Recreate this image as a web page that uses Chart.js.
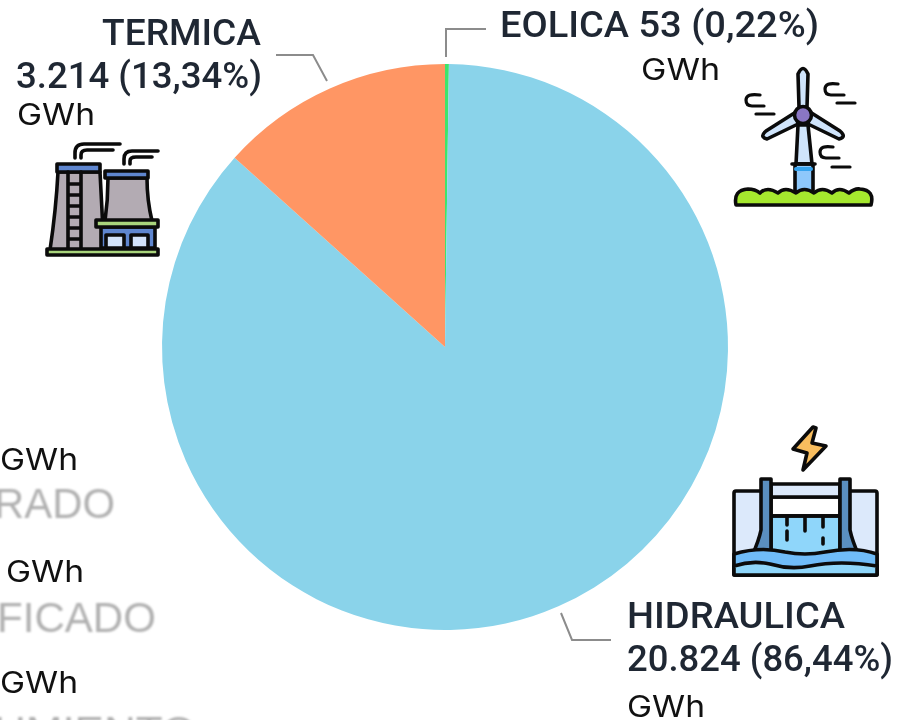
<!DOCTYPE html>
<html>
<head>
<meta charset="utf-8">
<script src="https://cdn.jsdelivr.net/npm/chart.js@4"></script>
<style>
html,body{margin:0;padding:0;background:#fff;overflow:hidden}
#wrap{position:relative;width:899px;height:720px}
canvas{position:absolute;left:0;top:0}
svg{position:absolute;left:0;top:0;pointer-events:none}
</style>
</head>
<body>
<div id="wrap">
<canvas id="c" width="899" height="720"></canvas>
<svg width="899" height="720" viewBox="0 0 899 720" fill="none" stroke="#0b0b0b" stroke-width="3.6" stroke-linecap="round" stroke-linejoin="round">
  <!-- thermal plant -->
  <g>
    <path d="M58 172 L100 172 L104 250 L50 250 Q56 210 58 172Z" fill="#b3abb3"/>
    <rect x="57" y="164" width="43" height="8" fill="#5f86cf"/>
    <path d="M68 172V248M81 172V248M68 184H81M68 195H81M68 206H81M68 217H81M68 228H81M68 239H81" />
    <path d="M108 178 L147 178 Q147 200 152 221 L105 221 Q108 200 108 178Z" fill="#b3abb3"/>
    <rect x="105" y="171" width="43" height="7" fill="#5f86cf"/>
    <rect x="101" y="227" width="54" height="21" fill="#5f86cf"/>
    <rect x="106" y="235" width="18" height="13" fill="#d3e3fa"/>
    <rect x="131" y="235" width="17" height="13" fill="#d3e3fa"/>
    <rect x="96" y="220" width="62" height="7" fill="#a9d47c"/>
    <rect x="47" y="249" width="111" height="6" fill="#a9d47c"/>
    <path d="M75 158V153Q75 144 84 144H120M81 158V155Q81 150 87 150H113"/>
    <path d="M124 164V159Q124 151 132 151H158M130 164V161Q130 157 136 157H152"/>
  </g>
  <!-- wind turbine -->
  <g>
    <path d="M798 125 L796 164 L812 164 L808 125Z" fill="#cfe4fb"/>
    <rect x="795" y="164" width="18" height="28" fill="#8ec8fb"/>
    <path d="M792 164H815"/>
    <path d="M796 169H811" stroke="#36a3ee" stroke-width="4"/>
    <path d="M736 205 Q733 190 748 189 Q755 189 760 193 Q767 186 778 193 Q785 186 796 193 Q804 186 814 193 Q822 186 832 193 Q839 186 849 193 Q855 188 860 189 Q875 190 871 205 H804 H736Z" fill="#a5e82e"/>
    <path d="M799 107 L798 74 Q803 63 808 74 L807 107Z" fill="#cfe4fb"/>
    <path d="M796 112 L766 131 Q759 137 767 139 L798 124Z" fill="#cfe4fb"/>
    <path d="M810 112 L840 131 Q847 137 839 139 L808 124Z" fill="#cfe4fb"/>
    <circle cx="803" cy="115" r="8.5" fill="#8a76c4"/>
    <path d="M760 95 Q746 93 746 100 Q746 106 752 106 H764M756 114H774" stroke-width="3.2"/>
    <path d="M838 84 Q825 82 825 89 Q825 95 831 95 H844M837 103H855" stroke-width="3.2"/>
    <path d="M833 147 Q820 145 820 152 Q820 158 826 158 H839M832 167H850" stroke-width="3.2"/>
  </g>
  <!-- hydro dam -->
  <g>
    <path d="M813 427 L793 449 L807 453 L803 470 L826 446 L812 443 L816 428Z" fill="#f8bd5e"/>
    <rect x="734" y="491" width="143" height="84" rx="2" fill="#dce9fb"/>
    <rect x="771" y="497" width="69" height="19" fill="#fff"/>
    <rect x="771" y="516" width="69" height="40" fill="#8fd6fa"/>
    <path d="M771 484H840V497H771Z" fill="#dce9fb"/>
    <path d="M771 516H840"/>
    <path d="M787 517V525M787 531V540M805 517V531M823 517V527M823 538V544"/>
    <path d="M761 479H771V556H752Q759 540 761 530Z" fill="#5a8fc0"/>
    <path d="M840 479H850V530Q852 540 859 556H840Z" fill="#5a8fc0"/>
    <path d="M734 554 Q760 546 785 552 Q805 556 825 552 Q855 546 877 554 V575 H734Z" fill="#70bcf8"/>
    <path d="M734 566 Q752 560 770 564 Q790 570 810 566 Q840 560 877 566 V575 H734Z" fill="#8fd6fa"/>
  </g>
</svg>
</div>
<script>
const categories = ['EOLICA', 'HIDRAULICA', 'TERMICA'];
const generation = [53, 20824, 3214];
const sliceColors = ['#3ee46c', '#8ad3ea', '#ff9664'];
const termicaLines = ['TERMICA', '3.214 (13,34%)'];
const eolicaLine = 'EOLICA 53 (0,22%)';
const hidraulicaLines = ['HIDRAULICA', '20.824 (86,44%)'];
const unitLabel = 'GWh';
const fadedLabels = ['RADO', 'FICADO', 'UMIENTO'];

const DARK = '500 37px Roboto', UNIT = '400 30px Inter', FADE = '400 42px "Liberation Sans"';
const annotations = [
  {t: termicaLines[0], x: 102, y: 45, w: 159, f: DARK, c: '#1f2733', b: 0.4},
  {t: termicaLines[1], x: 16, y: 88, w: 246, f: DARK, c: '#1f2733', b: 0.4},
  {t: unitLabel, x: 17, y: 125, w: 78, f: UNIT, c: '#111'},
  {t: eolicaLine, x: 500, y: 37, w: 319, f: DARK, c: '#1f2733', b: 0.4},
  {t: unitLabel, x: 641, y: 80, w: 79, f: UNIT, c: '#111'},
  {t: hidraulicaLines[0], x: 627, y: 628, w: 218, f: DARK, c: '#1f2733', b: 0.4},
  {t: hidraulicaLines[1], x: 627, y: 671, w: 266, f: DARK, c: '#1f2733', b: 0.4},
  {t: unitLabel, x: 627, y: 717, w: 78, f: UNIT, c: '#111'},
  {t: unitLabel, x: 0, y: 470, w: 78, f: UNIT, c: '#111'},
  {t: fadedLabels[0], x: -6, y: 518, w: 121, f: FADE, c: '#b0b0b0', b: 0.9},
  {t: unitLabel, x: 6, y: 582, w: 78, f: UNIT, c: '#111'},
  {t: fadedLabels[1], x: -3, y: 632, w: 159, f: FADE, c: '#b0b0b0', b: 0.9},
  {t: unitLabel, x: 0, y: 693, w: 78, f: UNIT, c: '#111'},
  {t: fadedLabels[2], x: -6, y: 746, w: 202, f: FADE, c: '#b0b0b0', b: 0.9}
];
const leaders = [
  [[276,55],[313,55],[327,81]],
  [[446,57],[446,29],[486,29]],
  [[561,613],[572,640],[611,640]]
];

const overlay = {
  id: 'overlay',
  afterDraw(chart) {
    const ctx = chart.ctx;
    ctx.save();
    ctx.strokeStyle = '#8c8c8c';
    ctx.lineWidth = 2;
    leaders.forEach(l => {
      ctx.beginPath();
      l.forEach((p, i) => i ? ctx.lineTo(p[0], p[1]) : ctx.moveTo(p[0], p[1]));
      ctx.stroke();
    });
    ctx.textBaseline = 'alphabetic';
    ctx.textAlign = 'left';
    annotations.forEach(a => {
      ctx.save();
      ctx.font = a.f;
      ctx.fillStyle = a.c;
      ctx.filter = a.b ? 'blur(' + a.b + 'px)' : 'none';
      const natural = ctx.measureText(a.t).width;
      ctx.translate(a.x, a.y);
      ctx.scale(a.w / natural, 1);
      ctx.fillText(a.t, 0, 0);
      ctx.restore();
    });
    ctx.restore();
  }
};

new Chart(document.getElementById('c'), {
  type: 'pie',
  data: {
    labels: categories,
    datasets: [{data: generation, backgroundColor: sliceColors, borderWidth: 0}]
  },
  options: {
    responsive: false,
    animation: false,
    layout: {padding: {left: 162, top: 64, right: 171, bottom: 90}},
    plugins: {legend: {display: false}, tooltip: {enabled: false}, title: {display: false}}
  },
  plugins: [overlay]
});
</script>
</body>
</html>
